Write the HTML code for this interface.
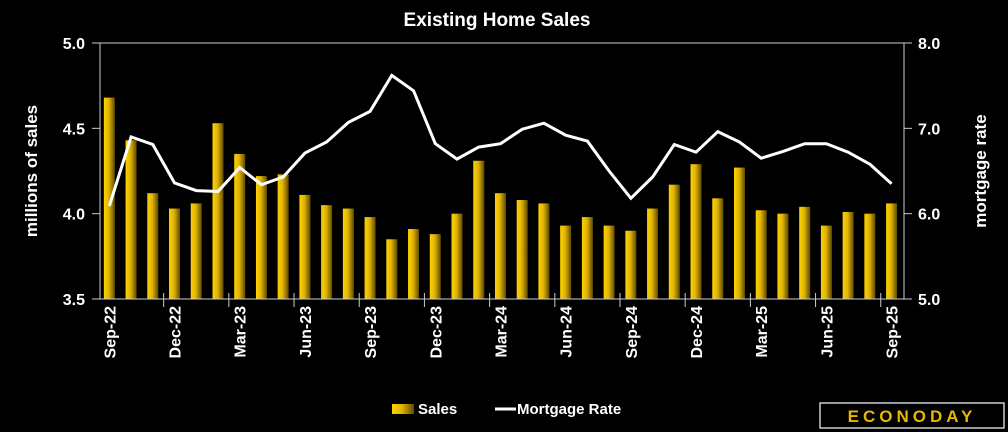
<!DOCTYPE html>
<html><head><meta charset="utf-8"><style>
body{margin:0;background:#000;}
svg{display:block;font-family:"Liberation Sans",sans-serif;font-weight:bold;}
</style></head><body>
<svg id="c" width="1008" height="432" viewBox="0 0 1008 432">
<defs><linearGradient id="g" x1="0" x2="1" y1="0" y2="0"><stop offset="0" stop-color="#ffd200"/><stop offset="0.45" stop-color="#e0b400"/><stop offset="1" stop-color="#5e4a00"/></linearGradient></defs>
<text x="497" y="26" fill="#fff" font-size="19" text-anchor="middle">Existing Home Sales</text>
<g id="plot"></g>
<g>
<rect x="392" y="404" width="22" height="10" fill="url(#g)"/>
<text x="418" y="414" fill="#fff" font-size="15">Sales</text>
<line x1="495" y1="409" x2="516" y2="409" stroke="#fff" stroke-width="3"/>
<text x="517" y="414" fill="#fff" font-size="15">Mortgage Rate</text>
</g>
<g>
<rect x="820" y="403" width="184" height="25" fill="#000" stroke="#ccc" stroke-width="1.5"/>
<text x="912" y="422" fill="#e8b800" font-size="17" text-anchor="middle" letter-spacing="4" font-family="Liberation Sans">ECONODAY</text>
</g>
</svg>
<script>
const months=["Sep-22","Oct-22","Nov-22","Dec-22","Jan-23","Feb-23","Mar-23","Apr-23","May-23","Jun-23","Jul-23","Aug-23","Sep-23","Oct-23","Nov-23","Dec-23","Jan-24","Feb-24","Mar-24","Apr-24","May-24","Jun-24","Jul-24","Aug-24","Sep-24","Oct-24","Nov-24","Dec-24","Jan-25","Feb-25","Mar-25","Apr-25","May-25","Jun-25","Jul-25","Aug-25","Sep-25"];
const sales=[4.68,4.43,4.12,4.03,4.06,4.53,4.35,4.22,4.23,4.11,4.05,4.03,3.98,3.85,3.91,3.88,4.00,4.31,4.12,4.08,4.06,3.93,3.98,3.93,3.90,4.03,4.17,4.29,4.09,4.27,4.02,4.00,4.04,3.93,4.01,4.00,4.06];
const rate=[6.09,6.90,6.81,6.36,6.27,6.26,6.54,6.34,6.43,6.71,6.84,7.07,7.20,7.62,7.44,6.82,6.64,6.78,6.82,6.99,7.06,6.92,6.85,6.50,6.18,6.43,6.81,6.72,6.96,6.84,6.65,6.73,6.82,6.82,6.72,6.58,6.35];
const leftTicks=["3.5","4.0","4.5","5.0"];
const rightTicks=["5.0","6.0","7.0","8.0"];
const X0=100,X1=904,Y0=43,Y1=299;
const NS="http://www.w3.org/2000/svg";
const g=document.getElementById('plot');
function mk(t,a){const e=document.createElementNS(NS,t);for(const k in a)e.setAttribute(k,a[k]);g.appendChild(e);return e;}
const step=(X1-X0)/months.length;
const xc=i=>X0+step*(i+0.43);
const yL=v=>Y1-(v-3.5)/1.5*(Y1-Y0);
const yR=v=>Y1-(v-5)/3*(Y1-Y0);
// gridlines / axes
let e=mk('line',{x1:X0,y1:Y0,x2:X1,y2:Y0,stroke:'#ccc','stroke-width':1});

leftTicks.forEach((t,i)=>{const v=parseFloat(t),y=yL(v);
 let l=mk('line',{x1:X0-8,y1:y,x2:X0,y2:y,stroke:'#ccc'});
 let tx=mk('text',{x:85,y:y+6,fill:'#fff','font-size':16,'text-anchor':'end'});tx.textContent=t;});
rightTicks.forEach((t,i)=>{const v=parseFloat(t),y=yR(v);
 let l=mk('line',{x1:X1,y1:y,x2:X1+8,y2:y,stroke:'#ccc'});
 let tx=mk('text',{x:918,y:y+6,fill:'#fff','font-size':16});tx.textContent=t;});
// bars
sales.forEach((v,i)=>{const y=yL(v);let r=mk('rect',{x:xc(i)-5.5,y:y,width:11,height:Y1-y,fill:'url(#g)'});
 });
e=mk('line',{x1:X0,y1:Y0,x2:X0,y2:Y1,stroke:'#ccc'});
e=mk('line',{x1:X1,y1:Y0,x2:X1,y2:Y1,stroke:'#ccc'});
e=mk('line',{x1:X0-8,y1:Y1,x2:X1+8,y2:Y1,stroke:'#ccc'});
// line
const pts=rate.map((v,i)=>xc(i).toFixed(1)+','+yR(v).toFixed(1)).join(' ');
e=mk('polyline',{points:pts,fill:'none',stroke:'#fff','stroke-width':3,'stroke-linejoin':'miter'});

// x labels every 3 months
months.forEach((m,i)=>{if(i%3!==0)return;
 if(i>0){let l=mk('line',{x1:(xc(i-1)+xc(i))/2,y1:Y1-6,x2:(xc(i-1)+xc(i))/2,y2:Y1+8,stroke:'#ccc'});}
 const x=xc(i)+6,y=306;let t=mk('text',{x:x,y:y,fill:'#fff','font-size':16,'text-anchor':'end',transform:`rotate(-90 ${x} ${y})`});
 t.textContent=m;});
// axis titles
e=mk('text',{x:37,y:171,fill:'#fff','font-size':17,'text-anchor':'middle',transform:'rotate(-90 37 171)'});e.textContent='millions of sales';

e=mk('text',{x:986,y:171,fill:'#fff','font-size':17,'text-anchor':'middle',transform:'rotate(-90 986 171)'});e.textContent='mortgage rate';

</script>
</body></html>
